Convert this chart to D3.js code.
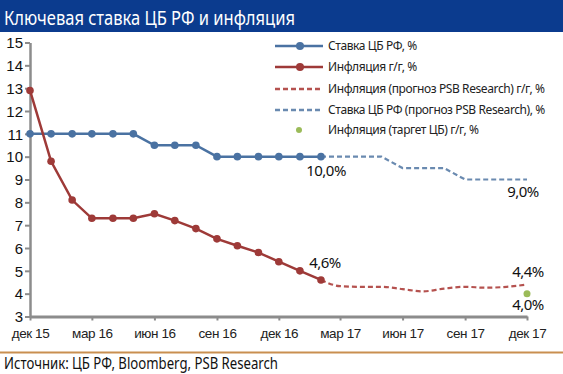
<!DOCTYPE html>
<html><head><meta charset="utf-8">
<script src="https://cdn.jsdelivr.net/npm/d3@7/dist/d3.min.js"></script>
<style>
body{margin:0;background:#fff;}
svg{display:block;font-family:"Noto Sans","Open Sans",sans-serif;}
</style></head>
<body><svg id="c" width="563" height="374"></svg>
<script>
// ---- data ----
const title = "Ключевая ставка ЦБ РФ и инфляция";
const source = "Источник: ЦБ РФ, Bloomberg, PSB Research";
const factMonths = ["2015-12","2016-01","2016-02","2016-03","2016-04","2016-05","2016-06","2016-07","2016-08","2016-09","2016-10","2016-11","2016-12","2017-01","2017-02"];
const rateValues = [11,11,11,11,11,11,10.5,10.5,10.5,10,10,10,10,10,10];
const inflValues = [12.9,9.8,8.1,7.3,7.3,7.3,7.5,7.2,6.85,6.4,6.1,5.8,5.4,5.0,4.6];
const fcMonths = ["2017-02","2017-03","2017-04","2017-05","2017-06","2017-07","2017-08","2017-09","2017-10","2017-11","2017-12"];
const rateForecast = [10,10,10,10,9.5,9.5,9.5,9,9,9,9];
const inflForecast = [4.6,4.33,4.3,4.3,4.2,4.1,4.22,4.3,4.26,4.3,4.4];
const targetMonth = "2017-12";
const targetValue = 4.0;
const tickMonths = ["2015-12","2016-03","2016-06","2016-09","2016-12","2017-03","2017-06","2017-09","2017-12"];
const tickLabels = ["дек 15","мар 16","июн 16","сен 16","дек 16","мар 17","июн 17","сен 17","дек 17"];
const yTicks = [3,4,5,6,7,8,9,10,11,12,13,14,15];
const legendLabels = ["Ставка ЦБ РФ, %","Инфляция г/г, %","Инфляция (прогноз PSB Research) г/г, %","Ставка  ЦБ РФ (прогноз  PSB Research), %","Инфляция (таргет ЦБ) г/г, %"];

const parse = d3.timeParse("%Y-%m");
const svg = d3.select("#c");
const W = 563;

const cBlue = "#4a72a2", cRed = "#9e3a38", cRedDash = "#b5524f", cBlueDash = "#6a8ab0", cGreen = "#9bbb59";

// title bar
svg.append("rect").attr("x",0).attr("y",0).attr("width",W).attr("height",32).attr("fill","#0b3b8e");
svg.append("text").attr("x",4).attr("y",25).attr("fill","#fff").attr("font-size",20)
  .attr("textLength",291).attr("lengthAdjust","spacingAndGlyphs").text(title);

// scales
const x = d3.scaleTime().domain([parse("2015-12"), parse("2017-12")]).range([30,527]);
const y = d3.scaleLinear().domain([3,15]).range([316.5,42.5]);

// axes
const yAxis = d3.axisLeft(y).tickValues(yTicks).tickSize(5).tickSizeOuter(0).tickPadding(4).tickFormat(d3.format("d"));
const gy = svg.append("g").attr("transform","translate(30,0)").call(yAxis);
gy.select(".domain").attr("stroke","#8c8c8c").attr("stroke-width",2.5);
gy.selectAll(".tick line").attr("stroke","#8c8c8c").attr("stroke-width",2);
gy.selectAll(".tick text").attr("font-size",15).attr("fill","#111").attr("dy","0.35em").attr("x",-7);

const xAxis = d3.axisBottom(x).tickValues(tickMonths.map(parse)).tickSize(4).tickSizeOuter(0)
  .tickFormat((d,i)=>tickLabels[i]);
const gx = svg.append("g").attr("transform","translate(0,316.5)").call(xAxis);
gx.select(".domain").attr("stroke","#8c8c8c").attr("stroke-width",3);
gx.selectAll(".tick line").attr("stroke","#8c8c8c").attr("stroke-width",2);
gx.selectAll(".tick text").attr("font-size",13.5).attr("fill","#222").attr("y",12).attr("dy","0.71em")
  .attr("letter-spacing","-0.4");

const line = d3.line().x(d=>x(d[0])).y(d=>y(d[1]));
const fact = (vals)=>factMonths.map((m,i)=>[parse(m),vals[i]]);
const fc = (vals)=>fcMonths.map((m,i)=>[parse(m),vals[i]]);

// forecast lines
svg.append("path").datum(fc(rateForecast)).attr("d",line).attr("fill","none")
  .attr("stroke",cBlueDash).attr("stroke-width",2.2).attr("stroke-dasharray","5,3");
svg.append("path").datum(fc(inflForecast)).attr("d",d3.line().x(d=>x(d[0])).y(d=>y(d[1])).curve(d3.curveMonotoneX)).attr("fill","none")
  .attr("stroke",cRedDash).attr("stroke-width",2.2).attr("stroke-dasharray","5,3");

// fact lines
[[rateValues,cBlue],[inflValues,cRed]].forEach(([vals,col])=>{
  const data = fact(vals);
  svg.append("path").datum(data).attr("d",line).attr("fill","none").attr("stroke",col).attr("stroke-width",2.5);
  svg.append("g").selectAll("circle").data(data).join("circle")
    .attr("cx",d=>x(d[0])).attr("cy",d=>y(d[1])).attr("r",3.8).attr("fill",col);
});

// target
svg.append("circle").attr("cx",x(parse(targetMonth))).attr("cy",y(targetValue)).attr("r",3.5).attr("fill",cGreen);

// data labels
const lastF = parse(factMonths[factMonths.length-1]);
const lastFc = parse(fcMonths[fcMonths.length-1]);
const labels = [
  [lastF, rateValues[rateValues.length-1], 5, 19],
  [lastF, inflValues[inflValues.length-1], 4, -12],
  [lastFc, rateForecast[rateForecast.length-1], -4, 17],
  [lastFc, inflForecast[inflForecast.length-1], 1, -8],
  [lastFc, targetValue, 1, 16]
];
const fmt = v=>d3.format(".1f")(v).replace(".",",")+"%";
labels.forEach(([d,v,dx,dy])=>{
  svg.append("text").attr("x",x(d)+dx).attr("y",y(v)+dy).attr("text-anchor","middle")
    .attr("font-size",15).attr("fill","#111").attr("letter-spacing","-0.5").text(fmt(v));
});

// legend
const lg = svg.append("g");
const rows = [46,67,89,110,130];
const styles = [
  {c:cBlue,dash:null,m:true},{c:cRed,dash:null,m:true},
  {c:cRedDash,dash:"5,3",m:false},{c:cBlueDash,dash:"5,3",m:false},{c:cGreen,dot:true}
];
styles.forEach((s,i)=>{
  const yy = rows[i];
  if(s.dot){
    lg.append("circle").attr("cx",299).attr("cy",yy).attr("r",3).attr("fill",s.c);
  } else {
    lg.append("line").attr("x1",275).attr("x2",323).attr("y1",yy).attr("y2",yy)
      .attr("stroke",s.c).attr("stroke-width",2.5).attr("stroke-dasharray",s.dash);
    if(s.m) lg.append("circle").attr("cx",300).attr("cy",yy).attr("r",4).attr("fill",s.c);
  }
  lg.append("text").attr("x",328).attr("y",yy).attr("dy","0.35em").attr("font-size",12)
    .attr("fill","#222").attr("letter-spacing","-0.4").text(legendLabels[i]);
});

// bottom rule and source
svg.append("line").attr("x1",0).attr("x2",W).attr("y1",352.5).attr("y2",352.5).attr("stroke","#c98f50").attr("stroke-width",2);
svg.append("text").attr("x",4).attr("y",369).attr("font-size",16).attr("fill","#111")
  .attr("textLength",274).attr("lengthAdjust","spacingAndGlyphs").text(source);
</script></body></html>
